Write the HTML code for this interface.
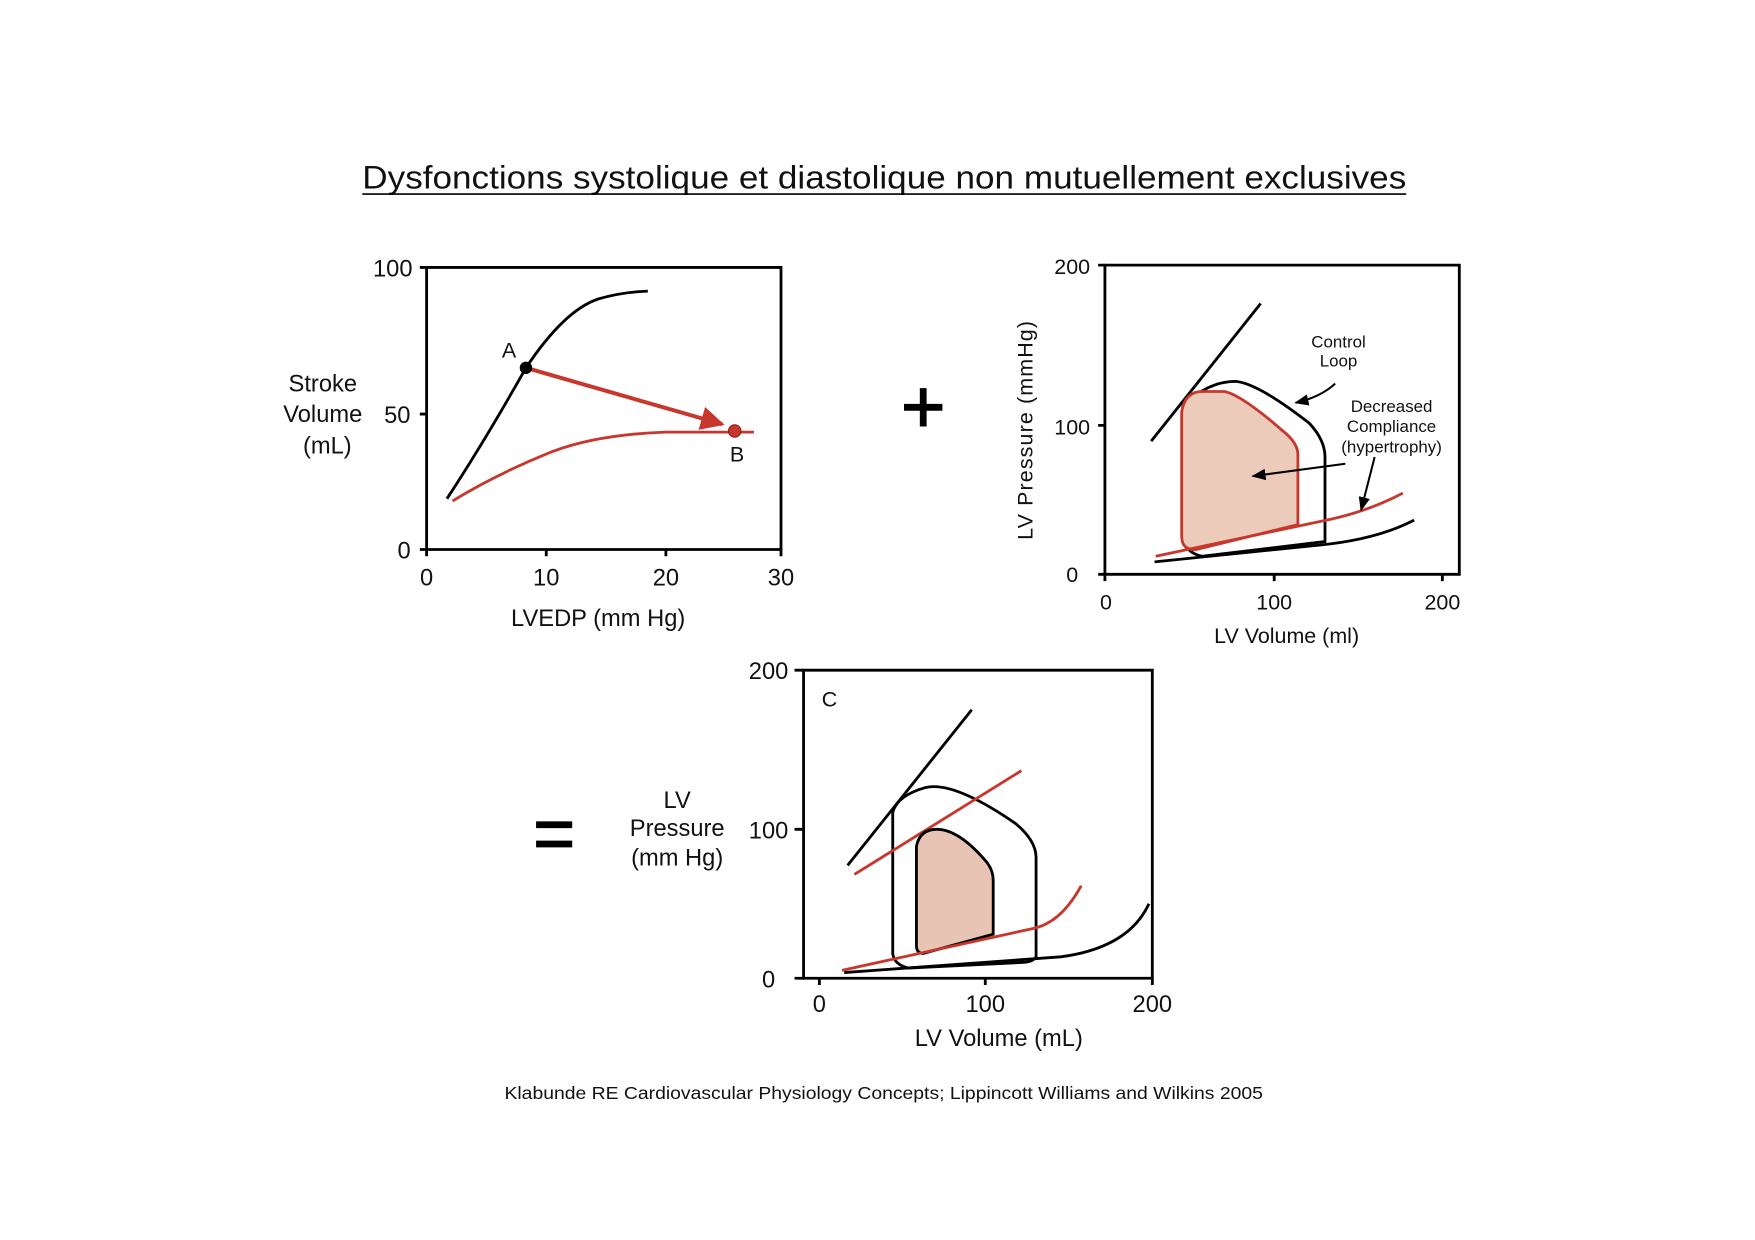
<!DOCTYPE html>
<html><head><meta charset="utf-8"><style>
html,body{margin:0;padding:0;background:#fff;}
svg{display:block;}
text{font-family:"Liberation Sans",sans-serif;fill:#111;}
</style></head><body>
<svg width="1755" height="1240" viewBox="0 0 1555 1099" preserveAspectRatio="none" xmlns="http://www.w3.org/2000/svg">
<defs>
<marker id="ar" viewBox="0 0 10 10" refX="9" refY="5" markerWidth="6" markerHeight="6" orient="auto"><path d="M0,0 L10,5 L0,10 z" fill="#c8372d"/></marker>
<marker id="ak" viewBox="0 0 10 10" refX="9" refY="5" markerWidth="7" markerHeight="7" orient="auto"><path d="M0,1 L10,5 L0,9 z" fill="#000"/></marker>
</defs>
<text x="321" y="167" font-size="29" textLength="925" lengthAdjust="spacingAndGlyphs">Dysfonctions systolique et diastolique non mutuellement exclusives</text>
<line x1="321" y1="172" x2="1246" y2="172" stroke="#000" stroke-width="1.5"/>

<!-- Plot 1 -->
<g fill="none" stroke="#000" stroke-width="2.5">
<path d="M378,237 H692 V487 H378 Z"/>
<path d="M372,237H378M372,367H378M372,487H378M378,487V493M484,487V493M590,487V493M692,487V493"/>
<path d="M396,442 Q430,390 466,326 Q500,275 530,265 Q550,259 574,258"/>
</g>
<path d="M401,444 Q440,420 490,400 Q530,385 590,383 L668,383" fill="none" stroke="#c8372d" stroke-width="2.5"/>
<line x1="466" y1="326" x2="640" y2="376" stroke="#c8372d" stroke-width="3.5" marker-end="url(#ar)"/>
<circle cx="466" cy="326" r="5.5" fill="#000"/>
<circle cx="651" cy="382" r="5.5" fill="#c8372d" stroke="#8a1e16"/>
<text x="451" y="317" font-size="19" text-anchor="middle">A</text>
<text x="653" y="409" font-size="19" text-anchor="middle">B</text>
<g font-size="21" text-anchor="middle">
<text x="348" y="245">100</text><text x="352" y="375">50</text><text x="358" y="495">0</text>
<text x="378" y="519">0</text><text x="484" y="519">10</text><text x="590" y="519">20</text><text x="692" y="519">30</text>
<text x="530" y="555">LVEDP (mm Hg)</text>
<text x="286" y="347">Stroke</text><text x="286" y="374">Volume</text><text x="290" y="402">(mL)</text>
</g>

<!-- plus -->
<path d="M818,344V378M801,361H835" stroke="#000" stroke-width="6"/>

<!-- Plot 2 -->
<g fill="none" stroke="#000" stroke-width="2.5">
<path d="M979,235 H1293 V509 H979 Z"/>
<path d="M973,235H979M973,377H979M973,509H979M979,509V515M1129,509V515M1278,509V515"/>
<path d="M1020,391 L1117,269"/>
<path d="M1048,360 Q1070,338 1095,338 Q1115,340 1160,375 Q1174,390 1174,405 V480 L1065,493 Q1050,490 1048,475 Z"/>
<path d="M1023,498 L1170,483 Q1220,478 1253,461"/>
</g>
<path d="M1047,365 Q1050,347 1065,347 L1085,347 Q1100,350 1138,383 Q1150,393 1150,403 V465 L1060,487 Q1047,488 1047,475 Z" fill="#eccbbb" stroke="#c8372d" stroke-width="2.5"/>
<path d="M1024,493 L1180,460 Q1215,452 1243,437" fill="none" stroke="#c8372d" stroke-width="2.5"/>
<g stroke="#000" stroke-width="1.8" fill="none">
<path d="M1183,340 Q1170,352 1148,357" marker-end="url(#ak)"/>
<path d="M1192,411 L1110,422" marker-end="url(#ak)"/>
<path d="M1218,405 L1206,452" marker-end="url(#ak)"/>
</g>
<g font-size="15" text-anchor="middle">
<text x="1186" y="308">Control</text><text x="1186" y="325">Loop</text>
<text x="1233" y="365">Decreased</text><text x="1233" y="383">Compliance</text><text x="1233" y="401">(hypertrophy)</text>
</g>
<g font-size="19" text-anchor="middle">
<text x="950" y="243">200</text><text x="950" y="385">100</text><text x="950" y="516">0</text>
<text x="980" y="540">0</text><text x="1129" y="540">100</text><text x="1278" y="540">200</text>
<text x="1140" y="570">LV  Volume (ml)</text>
<text transform="translate(915,381) rotate(-90)" letter-spacing="1">LV  Pressure (mmHg)</text>
</g>

<!-- equals -->
<path d="M475,731H507M475,748H507" stroke="#000" stroke-width="6"/>

<!-- Plot 3 -->
<g fill="none" stroke="#000" stroke-width="2.5">
<path d="M712,594 H1021 V867 H712 Z"/>
<path d="M704,594H712M704,735H712M704,867H712M726,867V873M873,867V873M1021,867V873"/>
<path d="M751,767 L861,629"/>
<path d="M791,720 Q795,705 820,698 Q845,692 900,730 Q918,745 918,760 V848 Q915,853 905,853 L805,858 Q792,855 791,845 Z"/>
<path d="M748,862 L940,848 Q1000,840 1018,801"/>
</g>
<path d="M757,775 L905,683" stroke="#c8372d" stroke-width="2.5"/>
<path d="M812,750 Q815,735 830,735 Q850,735 875,765 Q880,772 880,780 V828 L818,845 Q812,845 812,838 Z" fill="#e7c4b3" stroke="#000" stroke-width="2.5"/>
<path d="M746,860 L915,823 Q940,818 958,785" fill="none" stroke="#c8372d" stroke-width="2.5"/>
<g font-size="21" text-anchor="middle">
<text x="735" y="626" font-size="19">C</text>
<text x="681" y="602">200</text><text x="681" y="743">100</text><text x="681" y="875">0</text>
<text x="726" y="897">0</text><text x="873" y="897">100</text><text x="1021" y="897">200</text>
<text x="885" y="927">LV Volume (mL)</text>
<text x="600" y="716">LV</text><text x="600" y="741">Pressure</text><text x="600" y="767">(mm Hg)</text>
</g>

<text x="447" y="974" font-size="15.5" textLength="672" lengthAdjust="spacingAndGlyphs">Klabunde RE Cardiovascular Physiology Concepts; Lippincott Williams and Wilkins 2005</text>
</svg>
</body></html>
